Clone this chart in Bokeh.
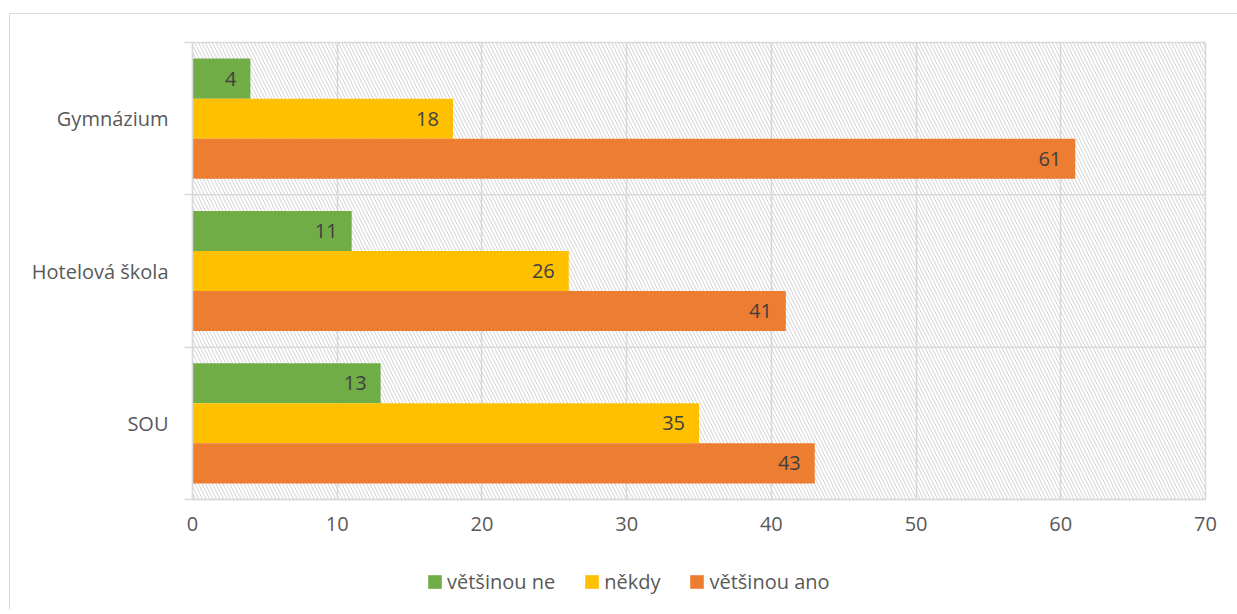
from bokeh.plotting import figure
from bokeh.layouts import column
from bokeh.models import (ColumnDataSource, FactorRange, BoxAnnotation, Span, Legend, LegendItem,
                          LinearAxis, CategoricalAxis, FixedTicker)
from bokeh.transform import dodge
from bokeh.core.properties import value
from bokeh.embed import file_html
from bokeh.resources import INLINE

schools = ["SOU", "Hotelová škola", "Gymnázium"]
series_names = ["většinou ne", "někdy", "většinou ano"]
vetsinou_ne = [13, 11, 4]
nekdy = [35, 26, 18]
vetsinou_ano = [43, 41, 61]
x_ticks = [0, 10, 20, 30, 40, 50, 60, 70]

colors = ["#70ad47", "#ffc000", "#ed7d31"]
offsets = [0.263, 0.0, -0.263]
FONT = "Open Sans"

src = ColumnDataSource(dict(school=schools, ne=vetsinou_ne, nekdy=nekdy, ano=vetsinou_ano,
                            ne_t=[str(v) for v in vetsinou_ne],
                            nekdy_t=[str(v) for v in nekdy],
                            ano_t=[str(v) for v in vetsinou_ano]))

chart = figure(width=1227, height=535, output_backend="svg", toolbar_location=None,
               y_range=FactorRange(factors=schools, range_padding=0),
               x_range=(0, 70), min_border_left=182, min_border_right=32,
               min_border_top=28, min_border_bottom=50, y_axis_location=None)
chart.border_fill_color = "white"
chart.background_fill_color = "white"
chart.outline_line_color = "#d9d9d9"
chart.outline_line_width = 1.5

# hatched plot area
chart.add_layout(BoxAnnotation(fill_color=None, line_color=None, hatch_pattern="\\",
                               hatch_color="#d2d2d2", hatch_scale=7, hatch_weight=1,
                               level="underlay"))

cols = ["ne", "nekdy", "ano"]
for c, col, off in zip(colors, cols, offsets):
    chart.hbar(y=dodge("school", off, range=chart.y_range), right=col, left=0, height=0.263,
               source=src, fill_color=c, line_color=None)
    chart.text(x=col, y=dodge("school", off, range=chart.y_range), text=col + "_t", source=src,
               text_align="right", text_baseline="middle", x_offset=-14,
               text_font=value(FONT), text_font_size="20px", text_color="#404040")

# category separators
for loc in [1, 2]:
    chart.add_layout(Span(location=loc, dimension="width", line_color="#d9d9d9", line_width=1.5))

# x axis
xa = chart.xaxis[0]
xa.ticker = FixedTicker(ticks=x_ticks)
xa.axis_line_color = "#d9d9d9"
xa.axis_line_width = 1.5
xa.major_tick_line_color = None
xa.minor_tick_line_color = None
xa.major_tick_out = 0
xa.major_tick_in = 0
xa.major_label_standoff = 17
xa.major_label_text_font = FONT
xa.major_label_text_font_size = "20px"
xa.major_label_text_color = "#595959"

chart.xgrid.ticker = FixedTicker(ticks=x_ticks)
chart.xgrid.grid_line_color = "#d9d9d9"
chart.xgrid.grid_line_width = 1.5
chart.ygrid.grid_line_color = None

# y axes: tick marks at category boundaries + labels at centers
tick_axis = LinearAxis(ticker=FixedTicker(ticks=[0, 1, 2, 3]),
                       major_label_overrides={0: "", 1: "", 2: "", 3: ""},
                       major_tick_out=8, major_tick_in=0, minor_tick_line_color=None,
                       major_tick_line_color="#d9d9d9", major_tick_line_width=1.5,
                       axis_line_color="#d9d9d9", axis_line_width=1.5,
                       major_label_standoff=0, major_label_text_font_size="1px")
cat_axis = CategoricalAxis(major_tick_line_color=None, major_tick_out=0, major_tick_in=0,
                           axis_line_color=None, major_label_standoff=16,
                           major_label_text_font=FONT, major_label_text_font_size="20px",
                           major_label_text_color="#595959")
chart.add_layout(tick_axis, "left")
chart.add_layout(cat_axis, "left")

# legend strip (separate small figure below the chart); swatch glyphs lie outside its view
leg_fig = figure(width=1227, height=60, output_backend="svg", toolbar_location=None,
                 x_range=(0, 1), y_range=(0, 1), x_axis_location=None, y_axis_location=None,
                 min_border=0)
leg_fig.outline_line_color = None
leg_fig.xgrid.grid_line_color = None
leg_fig.ygrid.grid_line_color = None
leg_renderers = [leg_fig.hbar(y=[-5], right=[1], left=0, height=0.263, fill_color=c, line_color=None)
                 for c in colors]
legend = Legend(items=[LegendItem(label=n, renderers=[r]) for n, r in zip(series_names, leg_renderers)],
                orientation="horizontal", location=(234, 14), glyph_width=17, glyph_height=17,
                label_standoff=4, spacing=28, padding=4, margin=0,
                label_text_font=FONT, label_text_font_size="20px", label_text_color="#595959",
                border_line_color=None, background_fill_alpha=0)
leg_fig.add_layout(legend, "center")

p = column(chart, leg_fig, spacing=0,
           styles={"margin-left": "9px", "margin-top": "13px",
                   "border-left": "1px solid #d9d9d9", "border-top": "1px solid #d9d9d9"})

open("out.html", "w").write(file_html(p, INLINE))
